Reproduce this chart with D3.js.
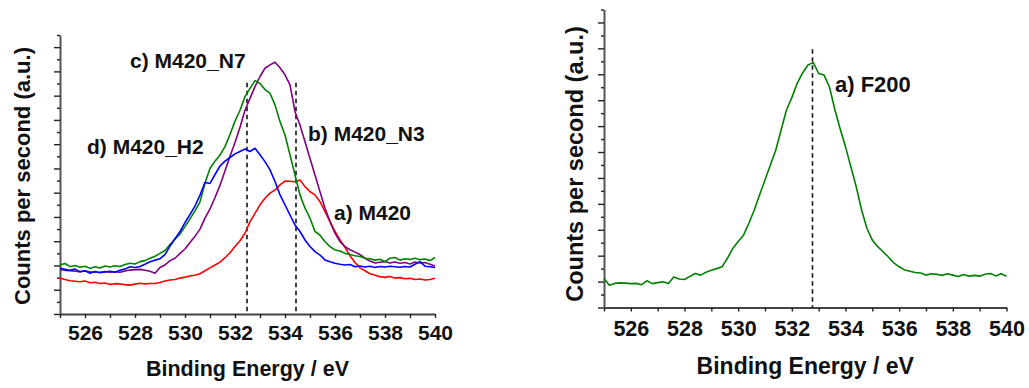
<!DOCTYPE html>
<html>
<head>
<meta charset="utf-8">
<script src="https://cdn.jsdelivr.net/npm/d3@7"></script>
<style>
  html, body { margin: 0; padding: 0; background: #fff; }
  svg { display: block; font-family: "Liberation Sans", Arial, sans-serif; font-weight: bold; }
</style>
</head>
<body>
<svg id="chart" width="1029" height="388"></svg>
<script>
// Binding energy grid (eV), shared by every O 1s spectrum
const energy = [
  525.0, 525.2, 525.4, 525.6, 525.8, 526.0, 526.2, 526.4, 526.6, 526.8,
  527.0, 527.2, 527.4, 527.6, 527.8, 528.0, 528.2, 528.4, 528.6, 528.8,
  529.0, 529.2, 529.4, 529.6, 529.8, 530.0, 530.2, 530.4, 530.6, 530.8,
  531.0, 531.2, 531.4, 531.6, 531.8, 532.0, 532.2, 532.4, 532.6, 532.8,
  533.0, 533.2, 533.4, 533.6, 533.8, 534.0, 534.2, 534.4, 534.6, 534.8,
  535.0, 535.2, 535.4, 535.6, 535.8, 536.0, 536.2, 536.4, 536.6, 536.8,
  537.0, 537.2, 537.4, 537.6, 537.8, 538.0, 538.2, 538.4, 538.6, 538.8,
  539.0, 539.2, 539.4, 539.6, 539.8, 540.0
];

// Counts per second (a.u.) for each sample
const m420 = [
  1.47, 1.42, 1.37, 1.35, 1.33, 1.36, 1.29, 1.31, 1.26, 1.28,
  1.22, 1.25, 1.24, 1.21, 1.19, 1.23, 1.27, 1.24, 1.26, 1.26,
  1.30, 1.36, 1.40, 1.42, 1.48, 1.52, 1.57, 1.60, 1.66, 1.78,
  1.90, 2.02, 2.14, 2.32, 2.52, 2.78, 3.02, 3.33, 3.81, 4.15,
  4.50, 4.77, 4.98, 5.11, 5.32, 5.48, 5.47, 5.45, 5.52, 5.25,
  5.04, 4.91, 4.63, 4.22, 3.81, 3.40, 3.05, 2.75, 2.40, 2.12,
  1.90, 1.78, 1.66, 1.60, 1.54, 1.51, 1.55, 1.48, 1.50, 1.45,
  1.47, 1.42, 1.44, 1.40, 1.42, 1.47
];
const m420N3 = [
  1.84, 1.80, 1.78, 1.76, 1.74, 1.77, 1.74, 1.72, 1.72, 1.75,
  1.72, 1.74, 1.72, 1.77, 1.81, 1.83, 1.84, 1.80, 1.76, 1.68,
  1.92, 2.02, 2.20, 2.30, 2.50, 2.68, 2.95, 3.20, 3.50, 3.95,
  4.33, 4.80, 5.30, 5.90, 6.50, 7.07, 7.70, 8.40, 8.89, 9.37,
  9.79, 10.13, 10.27, 10.38, 10.15, 9.86, 9.44, 8.34, 7.79, 7.10,
  6.41, 5.73, 5.04, 4.36, 3.81, 3.33, 2.98, 2.78, 2.65, 2.55,
  2.45, 2.30, 2.18, 2.10, 2.13, 2.16, 2.10, 2.14, 2.09, 2.12,
  2.06, 2.14, 2.10, 2.12, 2.05, 1.98
];
const m420N7 = [
  2.02, 2.08, 1.95, 2.00, 1.93, 1.97, 1.88, 1.95, 1.90, 1.98,
  1.94, 1.99, 1.96, 2.04, 2.09, 2.06, 2.16, 2.20, 2.30, 2.38,
  2.50, 2.62, 2.86, 3.08, 3.30, 3.60, 3.92, 4.25, 4.62, 5.40,
  6.00, 6.30, 6.55, 6.90, 7.40, 7.95, 8.40, 8.96, 9.30, 9.62,
  9.50, 9.25, 9.10, 8.62, 7.93, 7.38, 6.56, 5.73, 4.91, 4.36,
  3.95, 3.40, 3.25, 2.98, 2.78, 2.64, 2.60, 2.50, 2.45, 2.40,
  2.37, 2.30, 2.28, 2.22, 2.26, 2.16, 2.30, 2.33, 2.22, 2.28,
  2.25, 2.30, 2.24, 2.27, 2.20, 2.33
];
const m420H2 = [
  1.88, 1.84, 1.80, 1.85, 1.74, 1.78, 1.68, 1.75, 1.70, 1.73,
  1.76, 1.72, 1.80, 1.85, 1.95, 1.92, 1.96, 2.05, 2.15, 2.22,
  2.28, 2.45, 2.80, 3.10, 3.40, 3.77, 4.10, 4.45, 4.90, 5.42,
  5.38, 5.75, 6.10, 6.30, 6.45, 6.60, 6.70, 6.80, 6.70, 6.83,
  6.56, 6.28, 5.94, 5.46, 4.91, 4.50, 4.08, 3.67, 3.40, 3.05,
  2.78, 2.57, 2.43, 2.23, 2.15, 2.09, 2.05, 2.02, 2.04, 1.95,
  1.98, 1.94, 1.97, 1.92, 1.96, 1.94, 1.97, 1.95, 1.93, 1.96,
  1.94, 2.05, 2.16, 1.97, 1.95, 1.92
];
const f200 = [
  1.12, 0.86, 0.93, 0.95, 0.94, 0.92, 0.93, 0.88, 1.03, 0.92,
  0.96, 0.99, 0.93, 1.18, 1.10, 1.08, 1.20, 1.31, 1.25, 1.36,
  1.44, 1.50, 1.57, 1.90, 2.28, 2.55, 2.79, 3.25, 3.76, 4.35,
  4.92, 5.50, 6.07, 6.85, 7.62, 8.10, 8.65, 9.05, 9.36, 9.45,
  9.03, 8.97, 8.52, 7.65, 6.90, 6.20, 5.43, 4.66, 3.76, 3.05,
  2.60, 2.35, 2.15, 1.95, 1.72, 1.57, 1.45, 1.40, 1.35, 1.33,
  1.25, 1.30, 1.28, 1.24, 1.30, 1.25, 1.20, 1.27, 1.21, 1.24,
  1.21, 1.28, 1.31, 1.22, 1.30, 1.21
];

// Axis ticks
const xTicks = [525, 526, 527, 528, 529, 530, 531, 532, 533, 534, 535, 536, 537, 538, 539, 540];
const xTickLabels = [526, 528, 530, 532, 534, 536, 538, 540];
const yTicks = [0, 0.5, 1, 1.5, 2, 2.5, 3, 3.5, 4, 4.5, 5, 5.5, 6, 6.5, 7, 7.5, 8, 8.5, 9, 9.5, 10, 10.5, 11, 11.5];

// Peak markers (eV) and their top ends (a.u.)
const leftPeaks = [532.48, 534.44];
const leftPeakTop = 9.53;
const rightPeaks = [532.77];
const rightPeakTop = 9.97;

// Curve labels
const leftLabels = ["c) M420_N7", "d) M420_H2", "b) M420_N3", "a) M420"];
const rightLabels = ["a) F200"];

const svg = d3.select("#chart");

function panel(cfg) {
  const x = d3.scaleLinear().domain([525, 540]).range([cfg.x0, cfg.x1]);
  const y = d3.scaleLinear().domain([0, 11.5]).range([cfg.y0, cfg.y1]);
  const g = svg.append("g");

  // x axis
  const xa = g.append("g")
    .attr("transform", `translate(0,${cfg.y0})`)
    .call(d3.axisBottom(x).tickValues(xTicks).tickSizeInner(4).tickSizeOuter(0)
      .tickFormat(d => xTickLabels.includes(d) ? String(d) : ""));
  xa.select(".domain").attr("stroke", "#444").attr("stroke-width", 2);
  xa.selectAll(".tick line").attr("stroke", "#222").attr("stroke-width", 1.4);
  xa.selectAll(".tick text")
    .attr("fill", "#111")
    .attr("font-family", "'Liberation Sans', Arial, sans-serif")
    .attr("font-weight", "bold")
    .attr("font-size", cfg.tickFont)
    .attr("dy", null)
    .attr("y", cfg.tickBase - cfg.y0);

  // y axis (no values, major and minor ticks)
  const ya = g.append("g")
    .attr("transform", `translate(${cfg.x0},0)`)
    .call(d3.axisLeft(y).tickValues(yTicks).tickSizeOuter(0).tickFormat(""));
  ya.select(".domain").attr("stroke", "#555").attr("stroke-width", 2);
  ya.selectAll(".tick line")
    .attr("stroke", "#222").attr("stroke-width", 1.4)
    .attr("x2", d => Number.isInteger(d) ? -6 : -3);

  // axis titles
  g.append("text")
    .attr("x", (cfg.x0 + cfg.x1) / 2).attr("y", cfg.xTitleBase)
    .attr("text-anchor", "middle").attr("font-size", cfg.xTitleFont).attr("fill", "#111")
    .text("Binding Energy / eV");
  g.append("text")
    .attr("transform", `translate(${cfg.yTitleX},${cfg.yTitleY}) rotate(-90)`)
    .attr("text-anchor", "middle").attr("font-size", cfg.yTitleFont).attr("fill", "#111")
    .text("Counts per second (a.u.)");

  // dashed peak positions
  g.selectAll(".peak").data(cfg.peaks).enter().append("line")
    .attr("x1", d => x(d)).attr("x2", d => x(d))
    .attr("y1", y(cfg.peakTop)).attr("y2", cfg.y0)
    .attr("stroke", "#111").attr("stroke-width", 1.6)
    .attr("stroke-dasharray", "4.5,3.5");

  // spectra
  const line = d3.line().x((d, i) => x(energy[i])).y(d => y(d));
  cfg.series.forEach(s => {
    g.append("path").datum(s.values)
      .attr("d", line)
      .attr("fill", "none")
      .attr("stroke", s.color)
      .attr("stroke-width", 1.6)
      .attr("stroke-linejoin", "round");
  });

  // labels
  cfg.labels.forEach(l => {
    g.append("text")
      .attr("x", l.x).attr("y", l.y)
      .attr("font-size", cfg.labelFont).attr("fill", "#111")
      .text(l.text);
  });
}

panel({
  x0: 60, x1: 435, y0: 314, y1: 35,
  tickFont: 21, tickBase: 340,
  xTitleFont: 21.5, xTitleBase: 376,
  yTitleFont: 22, yTitleX: 30, yTitleY: 176,
  peaks: leftPeaks, peakTop: leftPeakTop,
  series: [
    { values: m420, color: "#ff0000" },
    { values: m420N3, color: "#800080" },
    { values: m420N7, color: "#008000" },
    { values: m420H2, color: "#0000ff" }
  ],
  labelFont: 21,
  labels: [
    { text: leftLabels[0], x: 130, y: 68 },
    { text: leftLabels[1], x: 87, y: 154 },
    { text: leftLabels[2], x: 308, y: 141 },
    { text: leftLabels[3], x: 334, y: 220 }
  ]
});

panel({
  x0: 604, x1: 1006.5, y0: 307.5, y1: 9.5,
  tickFont: 21.5, tickBase: 336,
  xTitleFont: 23, xTitleBase: 373.5,
  yTitleFont: 23.5, yTitleX: 583, yTitleY: 164,
  peaks: rightPeaks, peakTop: rightPeakTop,
  series: [
    { values: f200, color: "#008000" }
  ],
  labelFont: 22,
  labels: [
    { text: rightLabels[0], x: 835, y: 91.5 }
  ]
});
</script>
</body>
</html>
